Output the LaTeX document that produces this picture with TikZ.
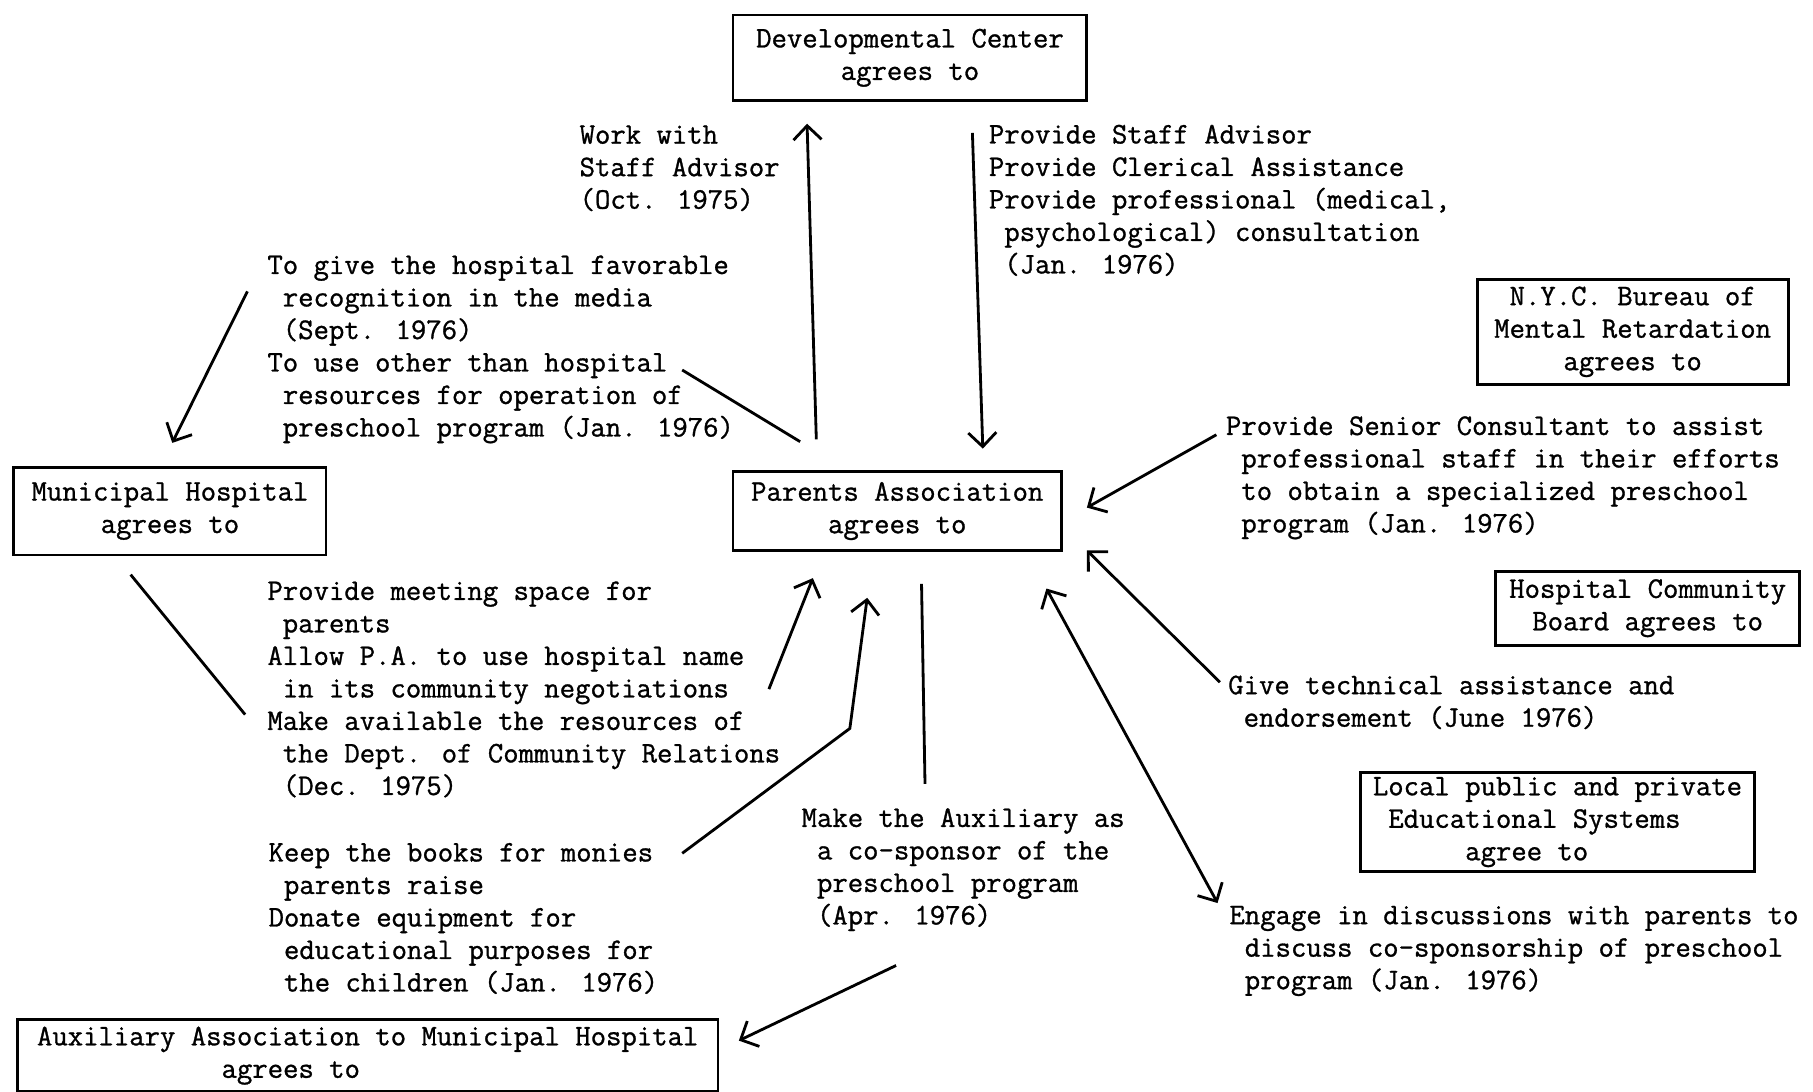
\documentclass[tikz,border=0pt]{standalone}
\usepackage{fontspec}
\usepackage{tikz}
\usetikzlibrary{positioning, arrows.meta}
\newfontfamily\typer[FakeBold=1]{Latin Modern Mono}
\newcommand{\mono}{\typer\fontsize{17}{18.5}\selectfont}
\newcommand{\ind}{\hphantom{x}}
\def\pxu{0.023126cm}

\begin{document}
\begin{tikzpicture}[x=0.023126cm, y=-0.023126cm,
    box/.style={draw, line width=1.6pt, inner sep=0pt, font=\mono, align=center},
    txt/.style={anchor=base west, align=left, inner sep=0pt, font=\mono},
    arr/.style={-{Straight Barb[length=8pt, width=16pt]}, line width=1.6pt},
    ln/.style={line width=1.6pt}]
    \useasboundingbox (0,0) rectangle (1568,944);
    \clip (0,0) rectangle (1568,944);

    % 方框
    \node[box, minimum width=306*\pxu, minimum height=74*\pxu] (dc) at (787,50) {Developmental Center\\agrees to};
    \node[box, minimum width=284*\pxu, minimum height=68*\pxu] (pa) at (776,442) {Parents Association\\agrees to};
    \node[box, minimum width=270*\pxu, minimum height=76*\pxu] (mh) at (147,442) {Municipal Hospital\\agrees to};
    \node[box, minimum width=269*\pxu, minimum height=91*\pxu] (nyc) at (1412,287) {N.Y.C. Bureau of\\Mental Retardation\\agrees to};
    \node[box, minimum width=263*\pxu, minimum height=64*\pxu] (hcb) at (1425,526) {Hospital Community\\Board agrees to};
    \node[box, align=left, minimum width=341*\pxu, minimum height=86*\pxu] (lpe) at (1347,711)
        {Local public and private\\\ind Educational Systems\\\ind\ind\ind\ind\ind\ind agree to};
    \node[box, align=left, minimum width=606*\pxu, minimum height=62*\pxu] (aux) at (318,913)
        {Auxiliary Association to Municipal Hospital\\\ind\ind\ind\ind\ind\ind\ind\ind\ind\ind\ind\ind agrees to};

    % 文字
    \node[txt] (work) at (501,180.5) {Work with\\Staff Advisor\\(Oct. 1975)};
    \node[txt] (staff) at (855,236.5) {Provide Staff Advisor\\Provide Clerical Assistance\\Provide professional (medical,\\\ind psychological) consultation\\\ind (Jan. 1976)};
    \node[txt] (media) at (231,377.5) {To give the hospital favorable\\\ind recognition in the media\\\ind (Sept. 1976)\\To use other than hospital\\\ind resources for operation of\\\ind preschool program (Jan. 1976)};
    \node[txt] (senior) at (1060,460.5) {Provide Senior Consultant to assist\\\ind professional staff in their efforts\\\ind to obtain a specialized preschool\\\ind program (Jan. 1976)};
    \node[txt] (tech) at (1062,628.5) {Give technical assistance and\\\ind endorsement (June 1976)};
    \node[txt] (engage) at (1063,855.5) {Engage in discussions with parents to\\\ind discuss co-sponsorship of preschool\\\ind program (Jan. 1976)};
    \node[txt] (space) at (231,687.5) {Provide meeting space for\\\ind parents\\Allow P.A. to use hospital name\\\ind in its community negotiations\\Make available the resources of\\\ind the Dept. of Community Relations\\\ind (Dec. 1975)};
    \node[txt] (cospon) at (693,799.5) {Make the Auxiliary as\\\ind a co-sponsor of the\\\ind preschool program\\\ind (Apr. 1976)};
    \node[txt] (books) at (232,857.5) {Keep the books for monies\\\ind parents raise\\Donate equipment for\\\ind educational purposes for\\\ind the children (Jan. 1976)};

    % 端點
    \coordinate (up-s) at (706,380);   \coordinate (up-e) at (698,107);
    \coordinate (dn-s) at (841,115);   \coordinate (dn-e) at (850,388);
    \coordinate (mh-s) at (214,252);   \coordinate (mh-e) at (149,383);
    \coordinate (res-s) at (590,320);  \coordinate (res-e) at (692,382);
    \coordinate (sen-s) at (1052,376); \coordinate (sen-e) at (940,439);
    \coordinate (tec-s) at (1055,590); \coordinate (tec-e) at (940,476);
    \coordinate (eng-s) at (905,509);  \coordinate (eng-e) at (1053,781);
    \coordinate (neg-s) at (665,596);  \coordinate (neg-e) at (703,500);
    \coordinate (bk-s) at (590,738);   \coordinate (bk-m) at (735,630);   \coordinate (bk-e) at (750,517);
    \coordinate (aux-s) at (797,505);  \coordinate (aux-e) at (800,678);
    \coordinate (spo-s) at (775,835);  \coordinate (spo-e) at (639,900);
    \coordinate (sp-s) at (113,497);   \coordinate (sp-e) at (212,618);

    % 箭頭
    \draw[arr] (up-s) -- (up-e);
    \draw[arr] (dn-s) -- (dn-e);
    \draw[arr] (mh-s) -- (mh-e);
    \draw[ln] (res-s) -- (res-e);
    \draw[arr] (sen-s) -- (sen-e);
    \draw[arr] (tec-s) -- (tec-e);
    \draw[arr, {Straight Barb[length=8pt, width=16pt]}-{Straight Barb[length=8pt, width=16pt]}] (eng-s) -- (eng-e);
    \draw[arr] (neg-s) -- (neg-e);
    \draw[arr] (bk-s) -- (bk-m) -- (bk-e);
    \draw[ln] (aux-s) -- (aux-e);
    \draw[arr] (spo-s) -- (spo-e);
    \draw[ln] (sp-s) -- (sp-e);
\end{tikzpicture}
\end{document}
